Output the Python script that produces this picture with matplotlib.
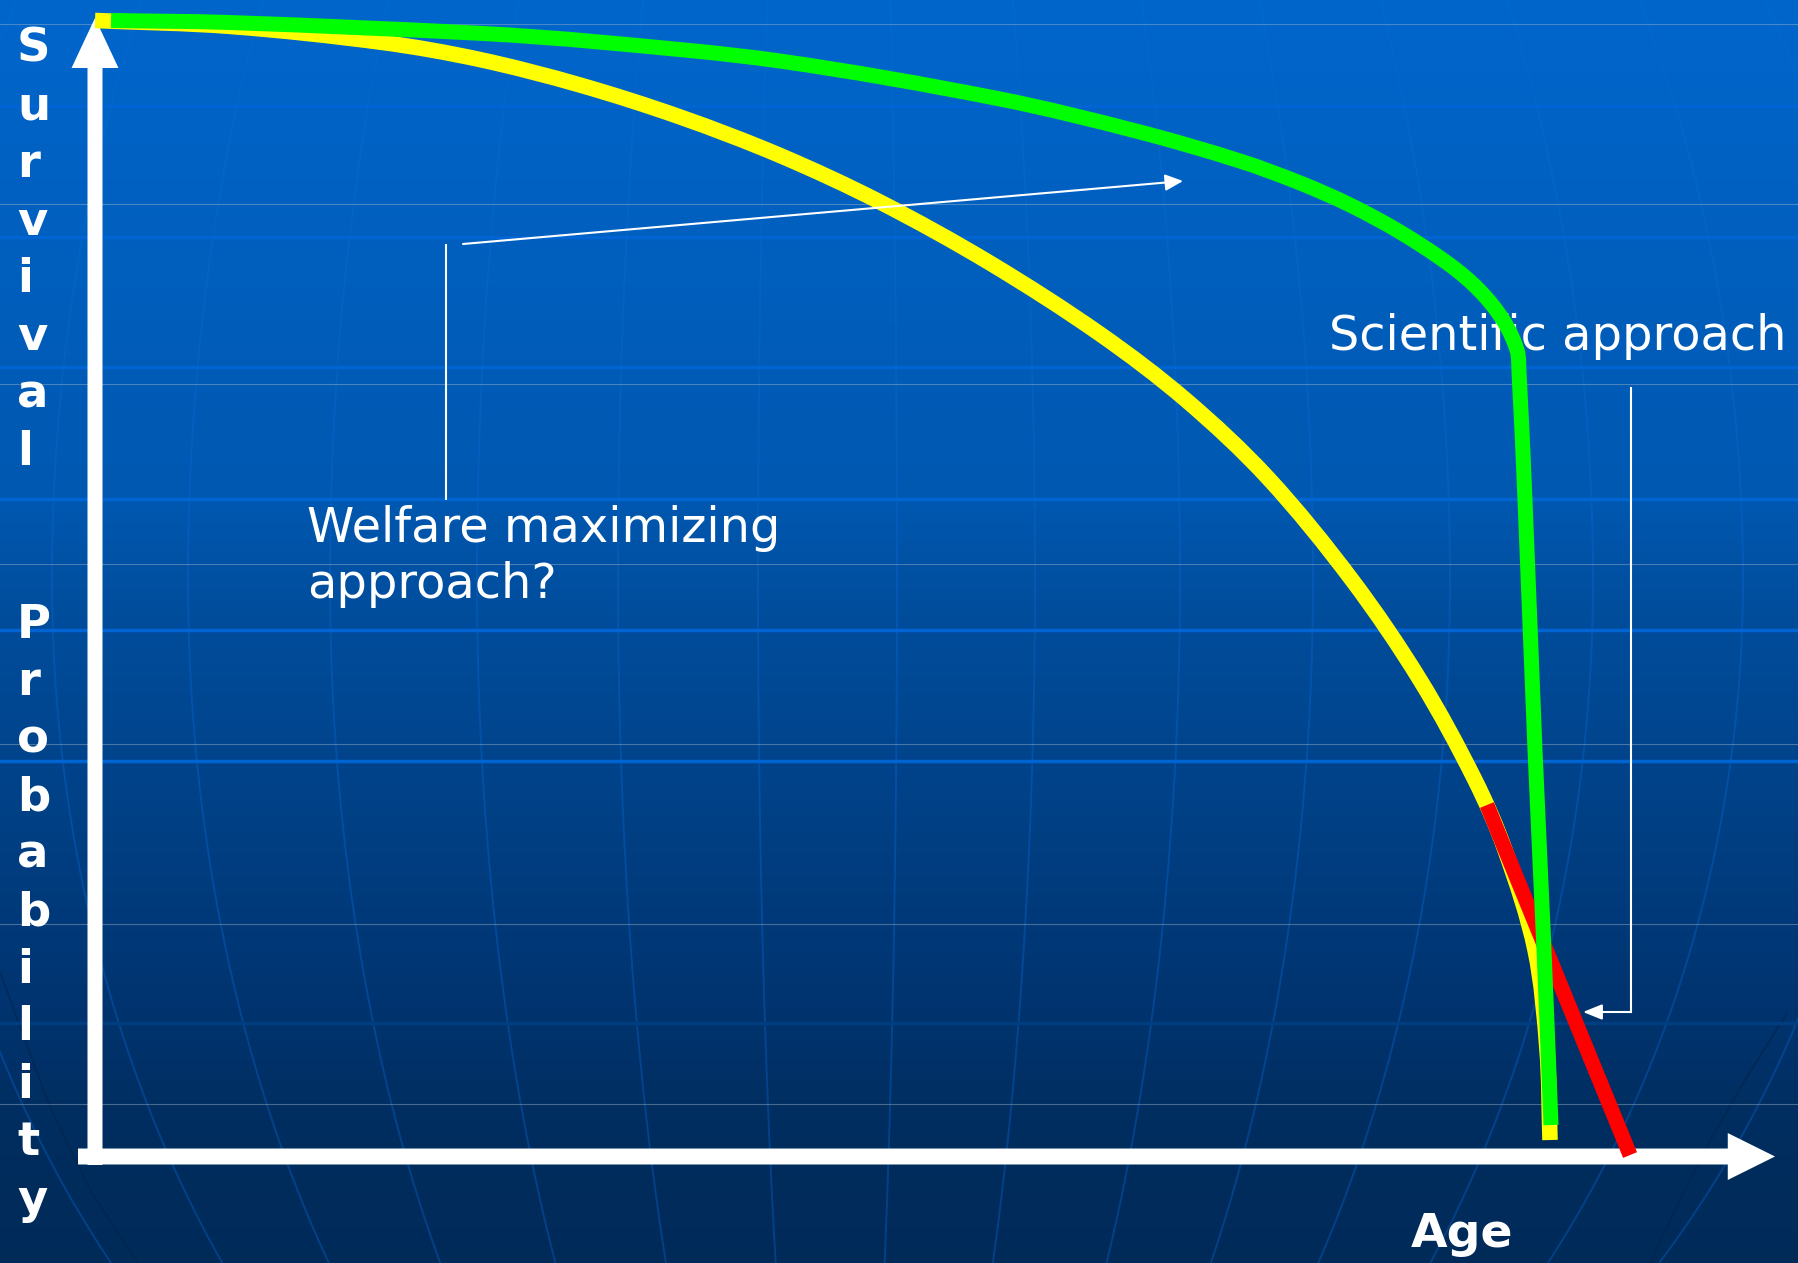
import numpy as np
import matplotlib
matplotlib.use("Agg")
import matplotlib.pyplot as plt
from matplotlib.patches import ArrowStyle, PathPatch
from matplotlib.path import Path

# ---------------------------------------------------------------------------
# Data: survival probability by age for the two approaches
# ---------------------------------------------------------------------------
welfare_age = [0.000, 9.272, 19.780, 26.442, 33.310, 40.179, 47.047, 53.915,
               61.470, 69.025, 74.931, 80.563, 86.332, 91.003, 94.780,
               96.841, 98.901, 99.725, 99.931]
welfare_surv = [1.0000, 0.9948, 0.9806, 0.9656, 0.9432, 0.9151, 0.8812,
                0.8402, 0.7865, 0.7240, 0.6659, 0.5973, 0.5075, 0.4195,
                0.3314, 0.2698, 0.1818, 0.0938, 0.0145]

scientific_age = [1.099, 9.272, 26.442, 34.409, 47.047, 62.157, 71.772,
                  78.640, 82.761, 86.195, 89.629, 93.063, 95.124, 96.703,
                  97.665, 97.802, 98.214, 98.901, 99.519, 100.0]
scientific_surv = [1.0000, 0.9982, 0.9887, 0.9813, 0.9643, 0.9309, 0.9018,
                   0.8763, 0.8570, 0.8376, 0.8138, 0.7848, 0.7619, 0.7364,
                   0.7099, 0.6906, 0.5779, 0.3578, 0.1818, 0.0277]

# straight late-life decline segment
decline_age = [95.60, 105.43]
decline_surv = [0.3094, 0.0013]

y_title_top = "Survival"
y_title_bottom = "Probability"
x_title = "Age"
label_welfare = ["Welfare maximizing", "approach?"]
label_scientific = "Scientific approach"

# ---------------------------------------------------------------------------
# Layout helpers (slide pixels -> data units)
# ---------------------------------------------------------------------------
W, H = 1798, 1263
X0, KX = 95.0, 14.56      # pixel of age 0, pixels per year
Y0, KY = 1156.5, 1136.0   # pixel of survival 0, pixels per unit survival


def px_x(x):
    return (np.asarray(x, dtype=float) - X0) / KX


def px_y(y):
    return (Y0 - np.asarray(y, dtype=float)) / KY


def smooth_path(xs, ys):
    """Smooth Bezier path through the given points (chord-length Hermite)."""
    pts = np.column_stack([xs, ys]).astype(float)
    scaled = pts * np.array([KX, KY])
    seg = np.hypot(*np.diff(scaled, axis=0).T)
    t = np.concatenate([[0.0], np.cumsum(seg)])
    tang = np.zeros_like(pts)
    tang[1:-1] = (pts[2:] - pts[:-2]) / (t[2:] - t[:-2])[:, None]
    tang[0] = (pts[1] - pts[0]) / (t[1] - t[0])
    tang[-1] = (pts[-1] - pts[-2]) / (t[-1] - t[-2])
    verts = [pts[0]]
    codes = [Path.MOVETO]
    for i in range(len(pts) - 1):
        h = t[i + 1] - t[i]
        verts += [pts[i] + tang[i] * h / 3, pts[i + 1] - tang[i + 1] * h / 3,
                  pts[i + 1]]
        codes += [Path.CURVE4] * 3
    return Path(verts, codes)


fig = plt.figure(figsize=(W / 100, H / 100), dpi=100)
ax = fig.add_axes([0, 0, 1, 1])
ax.set_xlim(px_x(0), px_x(W))
ax.set_ylim(px_y(H), px_y(0))
ax.axis("off")

# ---------------------------------------------------------------------------
# Background: vertical blue gradient with a faint globe wireframe
# ---------------------------------------------------------------------------
stops_y = [0, 500, 600, 1000, 1120, 1263]
stops_r = [0, 0, 0, 0, 0, 0]
stops_g = [102, 88, 78, 52, 46, 42]
stops_b = [204, 176, 158, 112, 96, 88]
rows = np.arange(H)
grad = np.stack([np.interp(rows, stops_y, stops_r),
                 np.interp(rows, stops_y, stops_g),
                 np.interp(rows, stops_y, stops_b)], axis=-1)[:, None, :] / 255.0
ax.imshow(grad, extent=[px_x(0), px_x(W), px_y(H), px_y(0)],
          aspect="auto", origin="upper", zorder=0, interpolation="bilinear")

# meridians of the globe
cx, ye, r_top, r_bot = 840.0, 580.0, 1250.0, 1100.0
meridians = [-90, 52, 188, 330, 477, 618, 758, 897, 1035, 1180, 1313, 1450,
             1593, 1743, 1885]
yy = np.linspace(0, H, 400)
dy = yy - ye
rr = np.where(dy < 0, r_top, r_bot)
cc = np.sqrt(np.clip(1 - (dy / rr) ** 2, 0, 1))
for xe in meridians:
    xx = cx + (xe - cx) * cc
    ax.plot(px_x(xx), px_y(yy), color="#0A6AD8", alpha=0.35, lw=1.4,
            zorder=1, solid_capstyle="butt")

# dark rim of the globe in the lower corners
rim_l_x = np.array([0, 25, 50, 90, 138])
rim_l_y = np.array([972, 1040, 1107, 1190, 1263])
rim_r_x = np.array([1787, 1745, 1705, 1675, 1650])
rim_r_y = np.array([1013, 1080, 1150, 1210, 1263])
ax.plot(px_x(rim_l_x), px_y(rim_l_y), color="#00224a", lw=1.5, alpha=0.45, zorder=1)
ax.plot(px_x(rim_r_x), px_y(rim_r_y), color="#00224a", lw=1.5, alpha=0.45, zorder=1)

# latitude bands
for yb in [106, 237, 367, 499, 630, 761]:
    ax.plot(px_x([0, W]), px_y([yb, yb]), color="#0064D2", lw=2.5, zorder=1.5)
ax.plot(px_x([0, W]), px_y([1023, 1023]), color="#003E80", lw=2.5, zorder=1.5)
for yg in [24, 204, 384, 564, 744, 924, 1104]:
    ax.plot(px_x([0, W]), px_y([yg, yg]), color="#A0B4C8", alpha=0.45,
            lw=0.8, zorder=1.6)

# ---------------------------------------------------------------------------
# Axes drawn as thick white arrows
# ---------------------------------------------------------------------------
axis_style = ArrowStyle.Simple(head_length=36, head_width=33.8, tail_width=10.8)
ax.annotate("", xy=(px_x(95), px_y(18)), xytext=(px_x(95), px_y(1165)),
            arrowprops=dict(arrowstyle=axis_style, mutation_scale=1,
                            fc="white", ec="none", shrinkA=0, shrinkB=0),
            zorder=2)
axis_style_x = ArrowStyle.Simple(head_length=34, head_width=33.8, tail_width=11.5)
ax.annotate("", xy=(px_x(1775), px_y(1156.5)), xytext=(px_x(78), px_y(1156.5)),
            arrowprops=dict(arrowstyle=axis_style_x, mutation_scale=1,
                            fc="white", ec="none", shrinkA=0, shrinkB=0),
            zorder=2)

# axis titles
bold = dict(color="white", fontsize=33.5, fontweight="bold",
            family="DejaVu Sans", ha="left", va="baseline", zorder=6)
letters = list(y_title_top) + [None, None] + list(y_title_bottom)
for i, ch in enumerate(letters):
    if ch is None:
        continue
    ax.text(px_x(17), px_y(62 + 57.55 * i), ch, **bold)
ax.text(px_x(1411), px_y(1247), x_title, color="white", fontsize=34,
        fontweight="bold", family="DejaVu Sans", ha="left", va="baseline",
        zorder=6)

# ---------------------------------------------------------------------------
# Survival curves
# ---------------------------------------------------------------------------
ax.add_patch(PathPatch(smooth_path(welfare_age, welfare_surv), fill=False,
                       edgecolor="#FFFF00", lw=11.2, capstyle="butt",
                       joinstyle="round", zorder=3))
ax.plot(decline_age, decline_surv, color="#FF0000", lw=10.8,
        solid_capstyle="butt", zorder=4)
ax.add_patch(PathPatch(smooth_path(scientific_age, scientific_surv), fill=False,
                       edgecolor="#00FF00", lw=10.8, capstyle="butt",
                       joinstyle="round", zorder=5))

# ---------------------------------------------------------------------------
# Labels and pointers
# ---------------------------------------------------------------------------
txt = dict(color="white", fontsize=34.5, family="DejaVu Sans",
           ha="left", va="baseline", zorder=4.5)
ax.text(px_x(307), px_y(542), label_welfare[0], **txt)
ax.text(px_x(307), px_y(598), label_welfare[1], **txt)
ax.text(px_x(1329), px_y(350), label_scientific, **txt)

pointer_lw = 1.5
ax.plot(px_x([446, 446]), px_y([244, 500]), color="white", lw=pointer_lw,
        zorder=3.5, solid_capstyle="butt")
ax.annotate("", xy=(px_x(1183), px_y(181)), xytext=(px_x(463), px_y(244)),
            arrowprops=dict(arrowstyle="-|>,head_length=0.54,head_width=0.25",
                            mutation_scale=20, color="white", lw=pointer_lw,
                            shrinkA=0, shrinkB=0),
            zorder=3.5)

ax.plot(px_x([1631, 1631]), px_y([388, 1012]), color="white", lw=pointer_lw,
        zorder=3.5, solid_capstyle="projecting")
ax.annotate("", xy=(px_x(1583), px_y(1012)), xytext=(px_x(1631), px_y(1012)),
            arrowprops=dict(arrowstyle="-|>,head_length=0.58,head_width=0.235",
                            mutation_scale=20, color="white", lw=pointer_lw,
                            shrinkA=0, shrinkB=0),
            zorder=3.5)

fig.savefig("out.png", dpi=100)
